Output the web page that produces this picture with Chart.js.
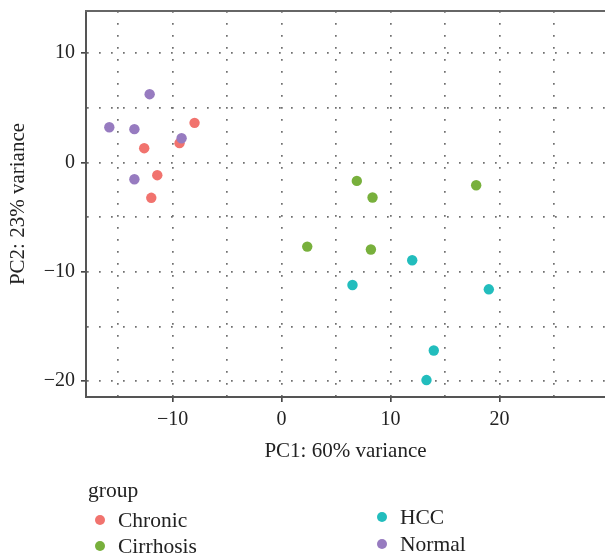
<!DOCTYPE html>
<html>
<head>
<meta charset="utf-8">
<script src="https://cdn.jsdelivr.net/npm/chart.js@4.4.1/dist/chart.umd.min.js"></script>
<style>
  html, body { margin: 0; padding: 0; background: #fff; }
  #wrap { position: relative; width: 605px; height: 558px; font-family: "Liberation Serif", "DejaVu Serif", serif; color: #222; }
  #wrap canvas { position: absolute; left: 0; top: 0; }
  .lg { position: absolute; font-size: 21.5px; line-height: 24px; white-space: nowrap; }
  .dot { position: absolute; width: 10px; height: 10px; border-radius: 50%; }
</style>
</head>
<body>
<div id="wrap">
  <canvas id="pca" width="605" height="558"></canvas>
</div>
<script>
// groups, in legend order
const groups = ['Chronic', 'Cirrhosis', 'HCC', 'Normal'];
const groupColors = ['#F1736E', '#78B03C', '#22BDBD', '#977BC0'];

// PC1 / PC2 scores
const chronicX = [-7.98, -12.6, -9.36, -11.4, -11.95];
const chronicY = [3.63, 1.31, 1.77, -1.16, -3.23];
const cirrhosisX = [6.91, 8.35, 17.86, 2.36, 8.2];
const cirrhosisY = [-1.68, -3.2, -2.08, -7.69, -7.96];
const hccX = [11.99, 6.51, 19.02, 13.97, 13.3];
const hccY = [-8.94, -11.2, -11.6, -17.2, -19.9];
const normalX = [-12.1, -15.8, -13.5, -9.17, -13.5];
const normalY = [6.25, 3.23, 3.05, 2.22, -1.53];

// labelled ticks (grid is drawn every 5)
const xTickLabels = [-10, 0, 10, 20];
const yTickLabels = [-20, -10, 0, 10];

const xTitle = 'PC1: 60% variance';
const yTitle = 'PC2: 23% variance';
const legendTitle = 'group';

const seriesX = [chronicX, cirrhosisX, hccX, normalX];
const seriesY = [chronicY, cirrhosisY, hccY, normalY];

const toPoints = (xs, ys) => xs.map((x, i) => ({x: x, y: ys[i]}));

const FONT = '"Liberation Serif", "DejaVu Serif", serif';
const AXIS_COLOR = '#555';
const GRID_COLOR = '#707070';

function tickLabel(list) {
    return v => list.includes(v) ? String(v).replace('-', '\u2212') : '';
}

// top frame line (ggplot-like panel has one, Chart.js doesn't)
const topFrame = {
    id: 'topFrame',
    afterDraw(chart) {
        const {ctx, chartArea} = chart;
        ctx.save();
        ctx.strokeStyle = '#666';
        ctx.lineWidth = 2;
        ctx.beginPath();
        ctx.moveTo(chartArea.left - 1, chartArea.top);
        ctx.lineTo(chartArea.right, chartArea.top);
        ctx.stroke();
        ctx.restore();
    }
};

const datasets = groups.map((g, i) => ({
    label: g,
    data: toPoints(seriesX[i], seriesY[i]),
    backgroundColor: groupColors[i],
    borderWidth: 0,
    pointRadius: 5.2,
    pointHoverRadius: 5.2,
    order: groups.length - 1 - i
}));

// label overflow padding would shrink the panel, the panel edges are fixed here
function noLabelPadding(s) {
    s.paddingTop = 0;
    s.paddingBottom = 0;
    s.paddingLeft = 0;
    s.paddingRight = 0;
}

const axisCommon = (labels) => ({
    type: 'linear',
    ticks: {
        stepSize: 5,
        includeBounds: false,
        autoSkip: false,
        maxRotation: 0,
        color: '#222',
        font: {family: FONT, size: 20},
        padding: 6,
        callback: tickLabel(labels)
    },
    grid: {
        color: GRID_COLOR,
        lineWidth: 1.7,
        tickLength: 5,
        tickWidth: 1.5,
        tickColor: ctx => (ctx.tick && labels.includes(ctx.tick.value)) ? '#333' : 'rgba(0,0,0,0)'
    },
    border: {
        display: true,
        color: AXIS_COLOR,
        width: 2,
        dash: [1.7, 10.3]
    }
});

const xAxis = axisCommon(xTickLabels);
xAxis.min = -17.94;
xAxis.max = 29.68;
xAxis.title = {display: true, text: xTitle, color: '#222', font: {family: FONT, size: 21}, padding: {top: 0, bottom: 8}};
xAxis.afterFit = s => { s.height = 75; noLabelPadding(s); };

const yAxis = axisCommon(yTickLabels);
yAxis.min = -21.45;
yAxis.max = 13.86;
yAxis.title = {display: true, text: yTitle, color: '#222', font: {family: FONT, size: 21}, padding: {top: 6, bottom: 0}};
yAxis.afterFit = s => { s.width = 86; noLabelPadding(s); };

new Chart(document.getElementById('pca'), {
    type: 'scatter',
    data: {datasets: datasets},
    options: {
        responsive: false,
        animation: false,
        layout: {autoPadding: false, padding: {top: 11, right: 0, left: 0, bottom: 86}},
        plugins: {
            legend: {display: false},
            tooltip: {enabled: false}
        },
        scales: {x: xAxis, y: yAxis}
    },
    plugins: [topFrame]
});

// legend below the panel, two columns
const wrap = document.getElementById('wrap');
function addText(text, left, top) {
    const d = document.createElement('div');
    d.className = 'lg';
    d.textContent = text;
    d.style.left = left + 'px';
    d.style.top = top + 'px';
    wrap.appendChild(d);
}
addText(legendTitle, 88, 478);

const legendSlots = [[100, 520], [100, 546], [382, 517], [382, 544]];
groups.forEach((g, i) => {
    const [cx, cy] = legendSlots[i];
    const dot = document.createElement('div');
    dot.className = 'dot';
    dot.style.background = groupColors[i];
    dot.style.left = (cx - 5) + 'px';
    dot.style.top = (cy - 5) + 'px';
    wrap.appendChild(dot);
    addText(g, cx + 18, cy - 12);
});
</script>
</body>
</html>
